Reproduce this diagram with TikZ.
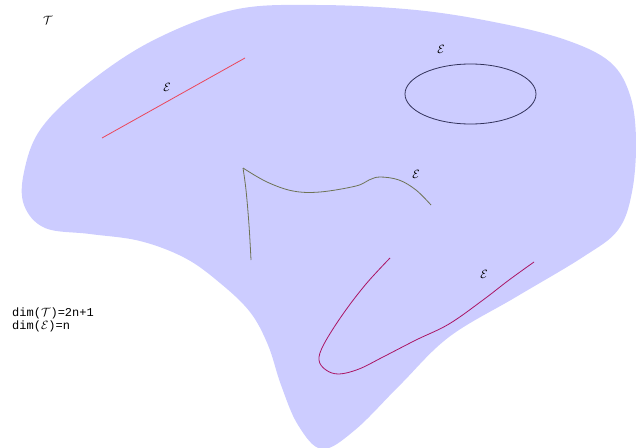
\documentclass[tikz,border=0pt]{standalone}
\usepackage{fontspec}
\newfontfamily\monofont{Liberation Mono}
\definecolor{blobfill}{RGB}{204,204,255}
\definecolor{redline}{RGB}{235,70,90}
\definecolor{ellcol}{RGB}{50,50,90}
\definecolor{olivecol}{RGB}{110,115,85}
\definecolor{purplecol}{RGB}{170,20,100}
\tikzset{
  lbl/.style={inner sep=0pt, font=\fontsize{11.5}{13}\selectfont},
  curve/.style={line width=0.8pt},
}
\begin{document}
\begin{tikzpicture}[x=1pt,y=-1pt]
\useasboundingbox (0,0) rectangle (636,447);
\fill[blobfill] plot[smooth cycle, tension=0.6] coordinates {
 (233,10) (316,5) (416,10) (499,23) (566,40) (610,62) (630,95) (636,140)
 (632,192) (618,230) (583,257) (516,297) (449,337) (400,385) (355,430)
 (322,449) (298,425) (281,385) (268,345) (250,312) (220,283) (185,258)
 (140,241) (90,234) (45,228) (24,205) (24,172) (40,130) (82,88) (150,42)};
% red segment
\draw[curve, redline] (102,138) -- (245,58);
% ellipse
\draw[curve, ellcol] (470.5,94) ellipse [x radius=65.5, y radius=30];
% olive curve
\draw[curve, olivecol] plot[smooth, tension=0.6] coordinates {(251,260) (249,225) (246,190) (243,168)};
\draw[curve, olivecol] plot[smooth, tension=0.6] coordinates {(243,168) (267,182) (293,191) (320,192) (356,186) (369,180) (380,177) (399,180) (416,190) (431,205)};
% purple curve
\draw[curve, purplecol] plot[smooth, tension=0.6] coordinates {(390,258) (366,284) (343,314) (324,344) (319,360) (326,370) (339,374) (359,369) (383,357) (416,340) (449,324) (483,300) (509,280) (534,262)};
% labels
\node[lbl] (T) at (48,20) {$\mathcal{T}$};
\node[lbl] (E1) at (167,87) {$\mathcal{E}$};
\node[lbl] (E2) at (441,49) {$\mathcal{E}$};
\node[lbl] (E3) at (416,174) {$\mathcal{E}$};
\node[lbl] (E4) at (484,274) {$\mathcal{E}$};
\node[lbl, anchor=north west, align=left, font=\monofont\fontsize{12}{13}\selectfont] (dims) at (12,308)
 {dim($\mathcal{T}$)=2n+1\\dim($\mathcal{E}$)=n};
\end{tikzpicture}
\end{document}
